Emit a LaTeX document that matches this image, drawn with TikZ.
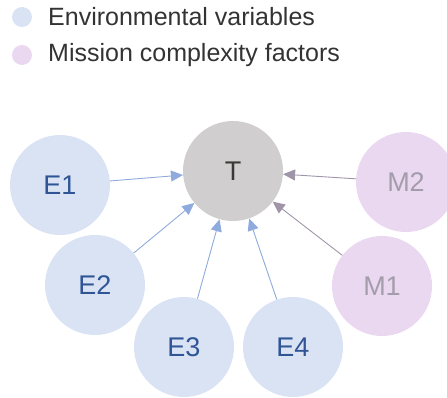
\documentclass[tikz,border=0pt]{standalone}
\usepackage{fontspec}
\setmainfont{Liberation Sans}
\usetikzlibrary{arrows.meta}
\definecolor{envfill}{HTML}{DAE3F3}
\definecolor{envtext}{HTML}{2F5597}
\definecolor{envline}{HTML}{8FAADC}
\definecolor{misfill}{HTML}{EAD8F1}
\definecolor{mistext}{HTML}{A39CAB}
\definecolor{misline}{HTML}{A094A8}
\definecolor{tfill}{HTML}{D0CECE}
\definecolor{ttext}{HTML}{3B3838}
\definecolor{legtext}{HTML}{333333}
\tikzset{
  var/.style={circle, minimum size=100pt, inner sep=0pt, font=\fontsize{27}{30}\selectfont},
  envnode/.style={var, fill=envfill, text=envtext},
  misnode/.style={var, fill=misfill, text=mistext},
  target/.style={var, fill=tfill, text=ttext},
  envarrow/.style={draw=envline, line width=0.9pt, -{Triangle[length=12pt,width=11pt]}},
  misarrow/.style={draw=misline, line width=0.9pt, -{Triangle[length=12pt,width=11pt]}},
  legdot/.style={circle, minimum size=20pt, inner sep=0pt},
  legtxt/.style={anchor=west, inner sep=0pt, text=legtext, font=\fontsize{25}{28}\selectfont}
}
\begin{document}
\begin{tikzpicture}[x=1pt, y=-1pt]
  \path[use as bounding box] (0,0) rectangle (447,398);
  \begin{scope}
    \clip (0,0) rectangle (447,398);
    % legend
    \node[legdot, fill=envfill] (ldot1) at (22,17) {};
    \node[legtxt] (ltxt1) at (48,17) {Environmental variables};
    \node[legdot, fill=misfill] (ldot2) at (22,55) {};
    \node[legtxt] (ltxt2) at (48,55) {Mission complexity factors};
    % variables
    \node[target]  (T)  at (233,171) {T};
    \node[envnode] (E1) at (60,185)  {E1};
    \node[envnode] (E2) at (95,285)  {E2};
    \node[envnode] (E3) at (184,347) {E3};
    \node[envnode] (E4) at (293,347) {E4};
    \node[misnode] (M1) at (382,286) {M1};
    \node[misnode] (M2) at (406,182) {M2};
    % influences
    \draw[envarrow] (E1) -- (T);
    \draw[envarrow] (E2) -- (T);
    \draw[envarrow] (E3) -- (T);
    \draw[envarrow] (E4) -- (T);
    \draw[misarrow] (M1) -- (T);
    \draw[misarrow] (M2) -- (T);
  \end{scope}
\end{tikzpicture}
\end{document}
